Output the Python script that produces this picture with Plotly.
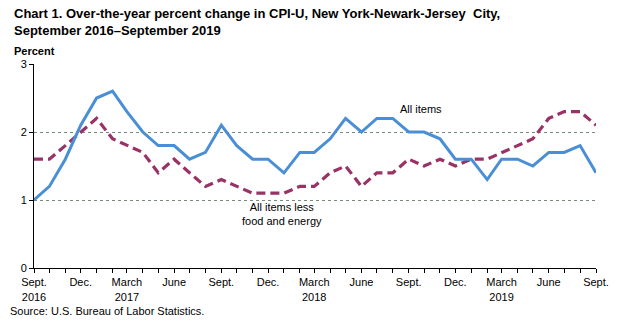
import plotly.graph_objects as go

months = ["2016-09-01", "2016-10-01", "2016-11-01", "2016-12-01",
          "2017-01-01", "2017-02-01", "2017-03-01", "2017-04-01", "2017-05-01", "2017-06-01",
          "2017-07-01", "2017-08-01", "2017-09-01", "2017-10-01", "2017-11-01", "2017-12-01",
          "2018-01-01", "2018-02-01", "2018-03-01", "2018-04-01", "2018-05-01", "2018-06-01",
          "2018-07-01", "2018-08-01", "2018-09-01", "2018-10-01", "2018-11-01", "2018-12-01",
          "2019-01-01", "2019-02-01", "2019-03-01", "2019-04-01", "2019-05-01", "2019-06-01",
          "2019-07-01", "2019-08-01", "2019-09-01"]

all_items = [1.0, 1.2, 1.6, 2.1, 2.5, 2.6, 2.3, 2.0, 1.8, 1.8, 1.6, 1.7, 2.1,
             1.8, 1.6, 1.6, 1.4, 1.7, 1.7, 1.9, 2.2, 2.0, 2.2, 2.2, 2.0,
             2.0, 1.9, 1.6, 1.6, 1.3, 1.6, 1.6, 1.5, 1.7, 1.7, 1.8, 1.4]

core = [1.6, 1.6, 1.8, 2.0, 2.2, 1.9, 1.8, 1.7, 1.4, 1.6, 1.4, 1.2, 1.3,
        1.2, 1.1, 1.1, 1.1, 1.2, 1.2, 1.4, 1.5, 1.2, 1.4, 1.4, 1.6,
        1.5, 1.6, 1.5, 1.6, 1.6, 1.7, 1.8, 1.9, 2.2, 2.3, 2.3, 2.1]

tick_vals = months[::3]
tick_text = ["Sept.<br>2016", "Dec.", "March<br>2017", "June", "Sept.", "Dec.",
             "March<br>2018", "June", "Sept.", "Dec.", "March<br>2019", "June", "Sept."]

FONT = "Arial, Liberation Sans, sans-serif"

fig = go.Figure()
fig.add_trace(go.Scatter(x=months, y=core, mode="lines", name="All items less food and energy",
                         line=dict(color="#993366", width=3.2, dash="9px,5px")))
fig.add_trace(go.Scatter(x=months, y=all_items, mode="lines", name="All items",
                         line=dict(color="#4a8fd6", width=3)))

L, R, T, B = 34, 23, 64, 53
W, H = 621, 321
pw = W - L - R
ph = H - T - B

def px_x(px):
    return (px - L) / pw

def px_y(py):
    return (H - B - py) / ph

fig.update_layout(
    width=W, height=H,
    margin=dict(l=L, r=R, t=T, b=B),
    paper_bgcolor="white", plot_bgcolor="white",
    showlegend=False,
    font=dict(family=FONT, size=11, color="black"),
    xaxis=dict(type="date", range=[months[0], months[-1]],
               tickvals=tick_vals, ticktext=tick_text,
               ticks="outside", ticklen=4, tickcolor="black",
               minor=dict(ticks="outside", ticklen=4, tickcolor="black", dtick="M1", showgrid=False),
               showline=True, linecolor="black", linewidth=1,
               showgrid=False, zeroline=False, tickangle=0,
               tickfont=dict(size=11, family=FONT)),
    yaxis=dict(range=[0, 3], tickvals=[0, 1, 2, 3],
               ticks="outside", ticklen=4, tickcolor="black",
               showline=True, linecolor="black", linewidth=1,
               showgrid=True, gridcolor="#7a8a7a", griddash="dot", gridwidth=1,
               zeroline=False, tickfont=dict(size=11, family=FONT)),
)

fig.add_annotation(xref="paper", yref="paper", x=px_x(12), y=px_y(4),
                   xanchor="left", yanchor="top", align="left", showarrow=False,
                   text="<b>Chart 1. Over-the-year percent change in CPI-U, New York-Newark-Jersey  City,<br>September 2016\u2013September 2019</b>",
                   font=dict(size=13, family=FONT))
fig.add_annotation(xref="paper", yref="paper", x=px_x(12), y=px_y(43),
                   xanchor="left", yanchor="top", showarrow=False,
                   text="<b>Percent</b>", font=dict(size=11, family=FONT))
fig.add_annotation(xref="paper", y=2.34, yref="y", x=px_x(422),
                   xanchor="center", showarrow=False, text="All items",
                   font=dict(size=11, family=FONT))
fig.add_annotation(xref="paper", y=0.8, yref="y", x=px_x(283),
                   xanchor="center", yanchor="middle", showarrow=False,
                   text="All items less<br>food and energy",
                   font=dict(size=11, family=FONT))
fig.add_annotation(xref="paper", yref="paper", x=px_x(8), y=px_y(303),
                   xanchor="left", yanchor="top", showarrow=False,
                   text="Source: U.S. Bureau of Labor Statistics.", font=dict(size=11, family=FONT))

fig.write_html("out.html")
